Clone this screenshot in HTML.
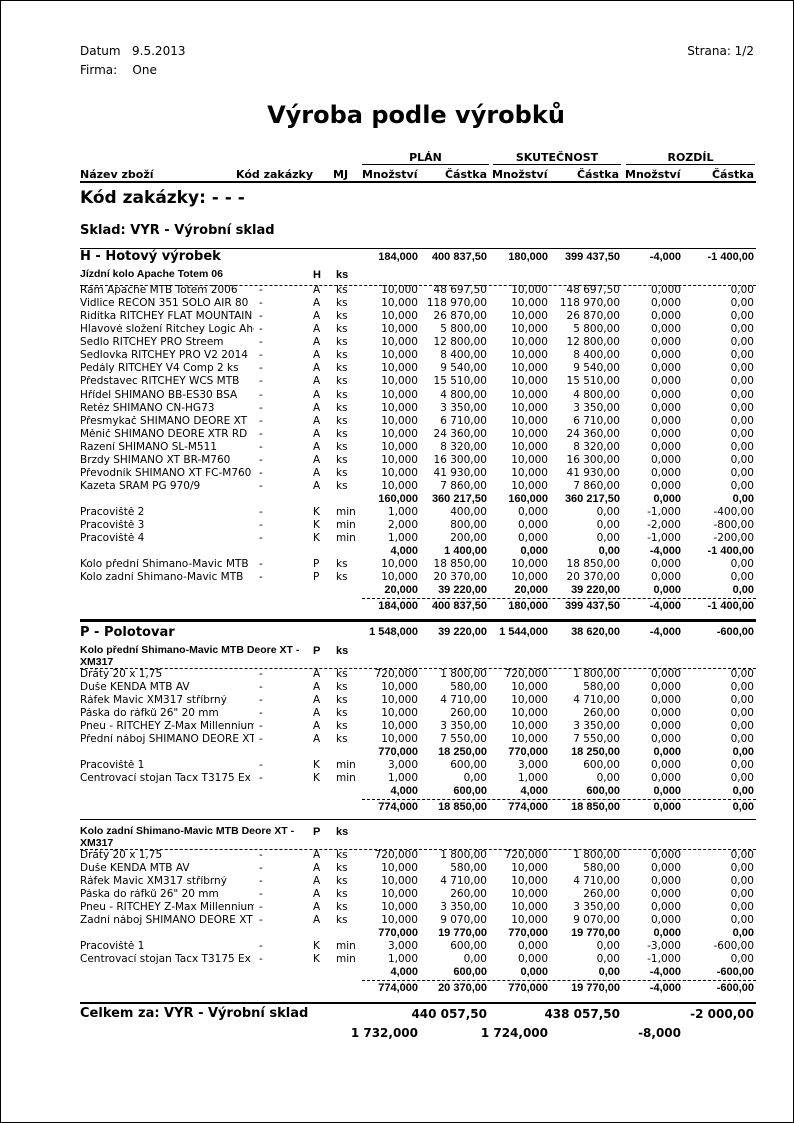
<!DOCTYPE html>
<html><head><meta charset="utf-8"><style>
html,body{margin:0;padding:0;background:#fff}
#pg{position:relative;width:792px;height:1121px;border:1px solid #000;overflow:hidden;font-family:"DejaVu Sans","Liberation Sans",sans-serif;color:#000}
.t{position:absolute;white-space:nowrap;line-height:1}
.n{font-size:10.5px}
.b{font-family:"Liberation Sans",sans-serif;font-weight:bold;font-size:11px}
.r{text-align:right}
.ln{position:absolute;background:#000}
.ds{position:absolute;height:0;border-top:1px dashed #000}
</style></head><body><div id="pg">
<div class="t" style="left:79px;top:44px;font-size:12px">Datum&nbsp;&nbsp;&nbsp;9.5.2013</div>
<div class="t" style="left:79px;top:63px;font-size:12px">Firma:&nbsp;&nbsp;&nbsp;&nbsp;One</div>
<div class="t r" style="right:39px;top:44px;font-size:12px">Strana: 1/2</div>
<div class="t" style="left:0;width:830px;text-align:center;top:102px;font-size:24px;font-weight:bold;font-family:'DejaVu Sans',sans-serif">Výroba podle výrobků</div>
<div class="t" style="left:361px;width:127px;text-align:center;top:151px;font-size:11px;font-weight:bold">PLÁN</div>
<div class="t" style="left:492px;width:128px;text-align:center;top:151px;font-size:11px;font-weight:bold">SKUTEČNOST</div>
<div class="t" style="left:625px;width:129px;text-align:center;top:151px;font-size:11px;font-weight:bold">ROZDÍL</div>
<div class="ln" style="left:361px;width:127px;top:163px;height:1px"></div>
<div class="ln" style="left:492px;width:128px;top:163px;height:1px"></div>
<div class="ln" style="left:625px;width:129px;top:163px;height:1px"></div>
<div class="t" style="left:79px;top:168px;font-size:11px;font-weight:bold">Název zboží</div>
<div class="t" style="left:235px;top:168px;font-size:11px;font-weight:bold">Kód zakázky</div>
<div class="t" style="left:332px;top:168px;font-size:11px;font-weight:bold">MJ</div>
<div class="t" style="left:361px;top:168px;font-size:11px;font-weight:bold">Množství</div>
<div class="t r" style="right:306px;top:168px;font-size:11px;font-weight:bold">Částka</div>
<div class="t" style="left:491px;top:168px;font-size:11px;font-weight:bold">Množství</div>
<div class="t r" style="right:174px;top:168px;font-size:11px;font-weight:bold">Částka</div>
<div class="t" style="left:624px;top:168px;font-size:11px;font-weight:bold">Množství</div>
<div class="t r" style="right:39px;top:168px;font-size:11px;font-weight:bold">Částka</div>
<div class="ln" style="left:79px;width:676px;top:180px;height:2px"></div>
<div class="t" style="left:79px;top:189px;font-size:17px;font-weight:bold">Kód zakázky: - - -</div>
<div class="t" style="left:79px;top:223px;font-size:13px;font-weight:bold">Sklad: VYR - Výrobní sklad</div>
<div class="ln" style="left:79px;width:676px;top:247px;height:1px"></div>
<div id="c"></div>
</div>
<script>
var C=document.getElementById('c'),R=[418,487,548,620,681,754];
function t(x,y,s,cls,st){var d=document.createElement('div');d.className='t '+(cls||'');d.style.cssText='left:'+x+'px;top:'+y+'px;'+(st||'');d.textContent=s;C.appendChild(d);return d}
function tr(rx,y,s,cls,st){var d=document.createElement('div');d.className='t r '+(cls||'');d.style.cssText='right:'+(793-rx)+'px;top:'+y+'px;'+(st||'');d.textContent=s;C.appendChild(d)}
function nums(y,a,bold){for(var i=0;i<6;i++)tr(R[i],y-6,a[i],bold?'b':'n')}
function det(y,nm,k,u,a){t(79,y-6,nm,'n','width:174px;overflow:hidden');t(258,y-6,'-','n');t(312,y-6,k,'n');t(335,y-6,u,'n');nums(y,a)}
function ds(x,y,w){var d=document.createElement('div');d.className='ds';d.style.cssText='left:'+x+'px;top:'+y+'px;width:'+w+'px';C.appendChild(d)}
function ln(y,h,x,w){var d=document.createElement('div');d.className='ln';d.style.cssText='left:'+(x||79)+'px;width:'+(w||676)+'px;top:'+y+'px;height:'+h+'px';C.appendChild(d)}
function grp(y,nm,k,st){t(79,y-6,nm,'b','font-size:10.5px');t(312,y-5,k,'b');t(335,y-5,'ks','b')}
t(79,249,'H - Hotový výrobek','', 'font-size:13px;font-weight:bold');
nums(257,['184,000','400 837,50','180,000','399 437,50','-4,000','-1 400,00'],1);
grp(274,'Jízdní kolo Apache Totem 06','H');
ds(79,284,676);
var H=[['Rám Apache MTB Totem 2006','10,000','48 697,50'],['Vidlice RECON 351 SOLO AIR 80','10,000','118 970,00'],['Řidítka RITCHEY FLAT MOUNTAIN','10,000','26 870,00'],['Hlavové složení Ritchey Logic Ahead','10,000','5 800,00'],['Sedlo RITCHEY PRO Streem','10,000','12 800,00'],['Sedlovka RITCHEY PRO V2 2014','10,000','8 400,00'],['Pedály RITCHEY V4 Comp 2 ks','10,000','9 540,00'],['Představec RITCHEY WCS MTB','10,000','15 510,00'],['Hřídel SHIMANO BB-ES30 BSA','10,000','4 800,00'],['Řetěz SHIMANO CN-HG73','10,000','3 350,00'],['Přesmykač SHIMANO DEORE XT','10,000','6 710,00'],['Měnič SHIMANO DEORE XTR RD','10,000','24 360,00'],['Řazení SHIMANO SL-M511','10,000','8 320,00'],['Brzdy SHIMANO XT BR-M760','10,000','16 300,00'],['Převodník SHIMANO XT FC-M760','10,000','41 930,00'],['Kazeta SRAM PG 970/9','10,000','7 860,00']];
H.forEach(function(r,i){det(290+i*13.07,r[0],'A','ks',[r[1],r[2],r[1],r[2],'0,000','0,00'])});
nums(499,['160,000','360 217,50','160,000','360 217,50','0,000','0,00'],1);
det(512,'Pracoviště 2','K','min',['1,000','400,00','0,000','0,00','-1,000','-400,00']);
det(525,'Pracoviště 3','K','min',['2,000','800,00','0,000','0,00','-2,000','-800,00']);
det(538,'Pracoviště 4','K','min',['1,000','200,00','0,000','0,00','-1,000','-200,00']);
nums(551,['4,000','1 400,00','0,000','0,00','-4,000','-1 400,00'],1);
det(564,'Kolo přední Shimano-Mavic MTB','P','ks',['10,000','18 850,00','10,000','18 850,00','0,000','0,00']);
det(577,'Kolo zadní Shimano-Mavic MTB','P','ks',['10,000','20 370,00','10,000','20 370,00','0,000','0,00']);
nums(590,['20,000','39 220,00','20,000','39 220,00','0,000','0,00'],1);
ds(361,597,394);
nums(606,['184,000','400 837,50','180,000','399 437,50','-4,000','-1 400,00'],1);
ln(618,3);
t(79,625,'P - Polotovar','','font-size:13px;font-weight:bold');
nums(632,['1 548,000','39 220,00','1 544,000','38 620,00','-4,000','-600,00'],1);
function sub(y0,nm,items,last,tot){
 grp(y0,nm,'P');t(79,y0+6,'XM317','b','font-size:10.5px');ds(79,y0+17,676);
 items.forEach(function(r,i){det(y0+24+i*13.07,r[0],'A','ks',[r[1],r[2],r[1],r[2],'0,000','0,00'])});
 var y=y0+24+6*13.07;
 nums(y,['770,000',tot[0],'770,000',tot[0],'0,000','0,00'],1);
 det(y+13,'Pracoviště 1','K','min',last[0]);
 det(y+26,'Centrovací stojan Tacx T3175 Ex','K','min',last[1]);
 nums(y+39,last[2],1);ds(361,y+46,394);nums(y+55,last[3],1);
}
sub(650,'Kolo přední Shimano-Mavic MTB Deore XT -',[['Dráty 20 x 1,75','720,000','1 800,00'],['Duše KENDA MTB AV','10,000','580,00'],['Ráfek Mavic XM317 stříbrný','10,000','4 710,00'],['Páska do ráfků 26" 20 mm','10,000','260,00'],['Pneu - RITCHEY Z-Max Millennium','10,000','3 350,00'],['Přední náboj SHIMANO DEORE XT','10,000','7 550,00']],
 [['3,000','600,00','3,000','600,00','0,000','0,00'],['1,000','0,00','1,000','0,00','0,000','0,00'],['4,000','600,00','4,000','600,00','0,000','0,00'],['774,000','18 850,00','774,000','18 850,00','0,000','0,00']],['18 250,00']);
ln(818,1);
sub(831,'Kolo zadní Shimano-Mavic MTB Deore XT -',[['Dráty 20 x 1,75','720,000','1 800,00'],['Duše KENDA MTB AV','10,000','580,00'],['Ráfek Mavic XM317 stříbrný','10,000','4 710,00'],['Páska do ráfků 26" 20 mm','10,000','260,00'],['Pneu - RITCHEY Z-Max Millennium','10,000','3 350,00'],['Zadní náboj SHIMANO DEORE XT','10,000','9 070,00']],
 [['3,000','600,00','0,000','0,00','-3,000','-600,00'],['1,000','0,00','0,000','0,00','-1,000','0,00'],['4,000','600,00','0,000','0,00','-4,000','-600,00'],['774,000','20 370,00','770,000','19 770,00','-4,000','-600,00']],['19 770,00']);
ln(1001,2);
t(79,1006,'Celkem za: VYR - Výrobní sklad','','font-size:13px;font-weight:bold');
tr(487,1007,'440 057,50','','font-size:12px;font-weight:bold');
tr(620,1007,'438 057,50','','font-size:12px;font-weight:bold');
tr(754,1007,'-2 000,00','','font-size:12px;font-weight:bold');
tr(418,1026,'1 732,000','','font-size:12px;font-weight:bold');
tr(548,1026,'1 724,000','','font-size:12px;font-weight:bold');
tr(681,1026,'-8,000','','font-size:12px;font-weight:bold');
</script></body></html>
